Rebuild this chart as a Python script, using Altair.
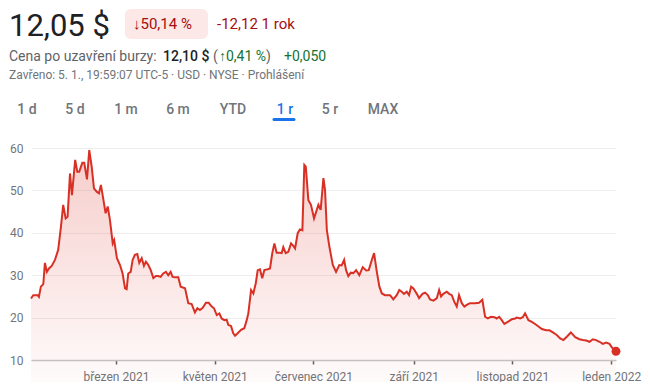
import altair as alt
import pandas as pd

# ---- data ----
# day offsets from 2021-01-01
days = [6.5, 7.9, 10.6, 11.4, 12.6, 14.1, 15.1, 16.3, 17.6, 19.3,
        21.3, 23.3, 25.0, 26.4, 27.9, 29.1, 30.6, 31.8, 33.8, 35.1,
        36.3, 38.2, 39.4, 41.1, 42.5, 44.0, 45.4, 47.1, 48.5, 49.7,
        51.1, 52.6, 53.9, 55.3, 57.0, 57.9, 59.6,
        61.5, 63.1, 64.6, 65.6, 66.6, 68.1, 69.3, 70.7, 72.2, 73.4,
        74.9, 76.3, 77.5, 79.0, 80.5, 82.1, 83.7, 85.1, 86.6, 88.2,
        89.9, 91.3, 92.8, 94.0, 95.5, 97.5, 99.0, 101.7, 103.7, 105.8,
        107.8, 109.3, 110.9, 112.6, 114.6, 116.3, 118.2, 119.6, 121.3, 122.9,
        124.3, 126.0, 127.4, 128.4, 130.1, 131.5, 132.6, 134.2, 136.3, 138.3,
        139.8, 140.8, 142.5, 143.9, 145.4, 146.6, 148.0, 149.4, 150.7, 152.8,
        154.2, 155.6, 156.9, 158.3, 160.4, 161.4, 162.4, 163.9, 165.5, 167.2,
        168.6, 169.7, 171.3, 172.7, 174.2, 175.4, 176.3, 177.9, 179.5,
        181.4, 183.1, 184.1, 185.5, 187.2, 188.2, 189.3, 190.9, 193.0, 195.0,
        197.0, 198.5, 200.0, 201.2, 202.6, 204.1, 205.7, 207.4, 209.4, 211.5,
        213.6, 215.2, 217.1, 218.5, 220.2, 221.8, 223.3, 225.3, 228.4, 230.4,
        232.5, 234.1, 235.6, 237.0, 238.7, 240.1,
        241.4, 242.8, 244.9, 246.3, 248.4, 250.0, 251.7, 253.1, 255.2, 257.3,
        258.7, 259.9, 261.3, 263.4, 264.9, 266.5, 268.1, 269.6, 271.0, 272.7,
        274.3, 275.8, 277.8, 280.9, 283.4, 285.4, 287.1, 288.8, 290.8, 292.9,
        294.3, 295.8, 297.4, 299.0, 301.1, 303.6, 305.7,
        306.7, 308.8, 310.4, 311.8, 313.9, 316.0, 318.0, 320.1, 322.2, 324.8,
        326.9, 329.0, 331.4, 333.5, 335.5, 337.6, 340.1, 342.8, 345.4, 347.5,
        349.6, 351.6, 353.7, 355.7, 357.8, 359.9, 361.9, 364.0, 365.4, 368.0]

prices = [24.5, 25.3, 25.3, 24.9, 27.3, 27.9, 32.9, 30.8, 31.6, 32.2,
          33.6, 36.0, 41.4, 46.6, 43.4, 43.8, 54.0, 48.9, 57.2, 54.4,
          54.4, 56.5, 56.5, 52.6, 59.5, 55.6, 50.5, 49.7, 49.3, 51.3,
          48.1, 44.6, 46.2, 43.0, 37.5, 38.3, 34.0,
          32.4, 30.4, 26.9, 26.7, 30.4, 30.8, 33.6, 34.8, 35.0, 32.9,
          34.0, 32.2, 33.2, 32.4, 31.2, 29.3, 29.8, 29.8, 29.6, 30.4,
          30.8, 30.0, 30.8, 29.6, 29.5, 29.5, 27.3, 26.9, 23.4, 23.2,
          21.2, 22.2, 21.8, 22.3, 23.5, 23.5, 22.6, 22.2, 20.6, 21.0,
          19.8, 19.4, 19.5, 18.3, 18.0, 16.3, 15.7, 16.3, 17.1, 17.5,
          19.4, 21.0, 26.5, 25.7, 28.1, 31.2, 31.4, 29.3, 31.2, 31.4,
          31.6, 35.2, 37.5, 35.3, 35.3, 35.2, 36.6, 35.2, 35.5, 37.5,
          36.9, 36.3, 39.9, 40.8, 40.6, 56.0, 55.6, 47.7, 46.6,
          43.4, 45.4, 46.6, 45.4, 52.9, 50.1, 40.7, 36.7, 32.4, 30.8,
          32.4, 32.3, 33.6, 31.2, 29.8, 30.6, 30.5, 31.2, 30.0, 31.9,
          31.1, 31.2, 33.6, 35.2, 30.8, 27.3, 25.7, 25.3, 25.3, 24.3,
          25.3, 26.5, 26.1, 25.6, 26.1, 25.3,
          27.3, 26.9, 25.6, 24.6, 25.6, 25.9, 25.3, 24.3, 24.0, 24.6,
          26.5, 25.0, 25.6, 26.1, 25.6, 25.3, 23.7, 22.6, 25.3, 23.4,
          22.6, 23.0, 23.4, 23.4, 23.5, 24.2, 20.2, 19.8, 20.2, 20.1,
          19.8, 20.2, 19.4, 18.5, 19.0, 19.6, 19.8,
          20.0, 19.8, 20.1, 21.0, 19.4, 19.0, 18.5, 17.9, 17.3, 17.0,
          17.0, 16.5, 15.9, 15.1, 14.7, 15.5, 16.5, 15.4, 14.9, 14.7,
          14.6, 14.3, 14.9, 14.7, 14.3, 13.8, 14.1, 13.8, 13.0, 12.05]

y_ticks = [10, 20, 30, 40, 50, 60]
x_tick_months = [(2021, 3), (2021, 5), (2021, 7), (2021, 9), (2021, 11), (2022, 1)]
month_names = ["leden", "únor", "březen", "duben", "květen", "červen",
               "červenec", "srpen", "září", "říjen", "listopad", "prosinec"]

tabs = ["1 d", "5 d", "1 m", "6 m", "YTD", "1 r", "5 r", "MAX"]
active_tab = "1 r"

df = pd.DataFrame({
    "date": pd.Timestamp("2021-01-01") + pd.to_timedelta(days, unit="D"),
    "price": prices,
})

# ---- layout constants (page pixels) ----
OX, OY = 31, 148          # plot origin on the page
W, H = 585, 212
LEFT = 9                  # left edge of header texts (page starts at 8)

RED = "#d93025"
GRAY = "#70757a"
FONT = "Roboto"

label_expr = ("[" + ",".join("'%s'" % m for m in month_names) + "][month(datum.value)]"
              " + ' ' + year(datum.value)")

x_enc = alt.X(
    "date:T",
    scale=alt.Scale(nice=False, padding=0),
    axis=alt.Axis(
        values=[alt.DateTime(year=y, month=m, date=1) for y, m in x_tick_months],
        labelExpr=label_expr, title=None, grid=False,
        domainColor="#c4c7c5", domainWidth=1.5,
        tickColor="#5f6368", tickSize=4, tickWidth=1.5,
        labelFont=FONT, labelFontSize=12, labelColor=GRAY,
        labelPadding=7, labelOverlap=False, labelFlush=False,
    ),
)
y_enc = alt.Y(
    "price:Q",
    scale=alt.Scale(domain=[10, 60], zero=False, nice=False),
    axis=alt.Axis(
        values=y_ticks, title=None, domain=False, ticks=False,
        gridColor="#eeeeee", gridWidth=1,
        labelFont=FONT, labelFontSize=12, labelColor=GRAY, labelPadding=8,
    ),
)

gradient = alt.Gradient(
    gradient="linear",
    stops=[alt.GradientStop(color="rgba(217,48,37,0.24)", offset=0),
           alt.GradientStop(color="rgba(217,48,37,0.0)", offset=1)],
    x1=1, x2=1, y1=0, y2=1,
)

area = alt.Chart(df).mark_area(color=gradient).encode(x=x_enc, y=y_enc)
line = alt.Chart(df).mark_line(color=RED, strokeWidth=2).encode(x=x_enc, y=y_enc)
dot = alt.Chart(df.tail(1)).mark_circle(size=80, color=RED, opacity=1).encode(x=x_enc, y=y_enc)

one = pd.DataFrame({"k": [0]})


def txt(s, px, py, size, color, weight="normal", align="left"):
    return alt.Chart(one).mark_text(
        text=s, align=align, baseline="alphabetic", fontSize=size, font=FONT,
        color=color, fontWeight=weight,
    ).encode(x=alt.value(px - OX), y=alt.value(py - OY))


header = [
    txt("12,05 $", LEFT, 36, 31, "#202124"),
    alt.Chart(one).mark_rect(color="#fce8e6", cornerRadius=6).encode(
        x=alt.value(125 - OX), x2=alt.value(208 - OX),
        y=alt.value(9 - OY), y2=alt.value(39 - OY)),
    txt("↓50,14 %", 133, 28.5, 15, "#a50e0e"),
    txt("-12,12 1 rok", 217, 28.5, 15, "#a50e0e"),
    txt("Cena po uzavření burzy:", LEFT, 61, 14, "#5f6368"),
    txt("12,10 $", 163, 61, 14, "#202124", weight=500),
    txt("(", 213, 61, 14, "#5f6368"),
    txt("↑0,41 %", 219, 61, 14, "#137333"),
    txt(")", 266, 61, 14, "#5f6368"),
    txt("+0,050", 284, 61, 14, "#137333"),
    txt("Zavřeno: 5. 1., 19:59:07 UTC-5 · USD · NYSE · Prohlášení", LEFT, 79, 12, GRAY),
]

tab_centers = [27, 75, 126, 178, 233, 285, 330, 383]
for t, cx in zip(tabs, tab_centers):
    header.append(txt(t, cx, 114, 14, "#1a73e8" if t == active_tab else "#70757a",
                      weight=500, align="center"))
active_cx = tab_centers[tabs.index(active_tab)]
header.append(
    alt.Chart(one).mark_rule(color="#1a73e8", strokeWidth=3, strokeCap="round").encode(
        x=alt.value(active_cx - 11 - OX), x2=alt.value(active_cx + 9 - OX),
        y=alt.value(119.5 - OY))
)

chart = alt.layer(area, line, dot, *header).properties(
    width=W, height=H,
    padding={"left": OX - 8, "top": OY - 8, "right": 26, "bottom": 22},
    autosize=alt.AutoSizeParams(type="none"),
).configure_view(stroke=None)

chart.save("out.html", embed_options={"renderer": "svg", "actions": False})
